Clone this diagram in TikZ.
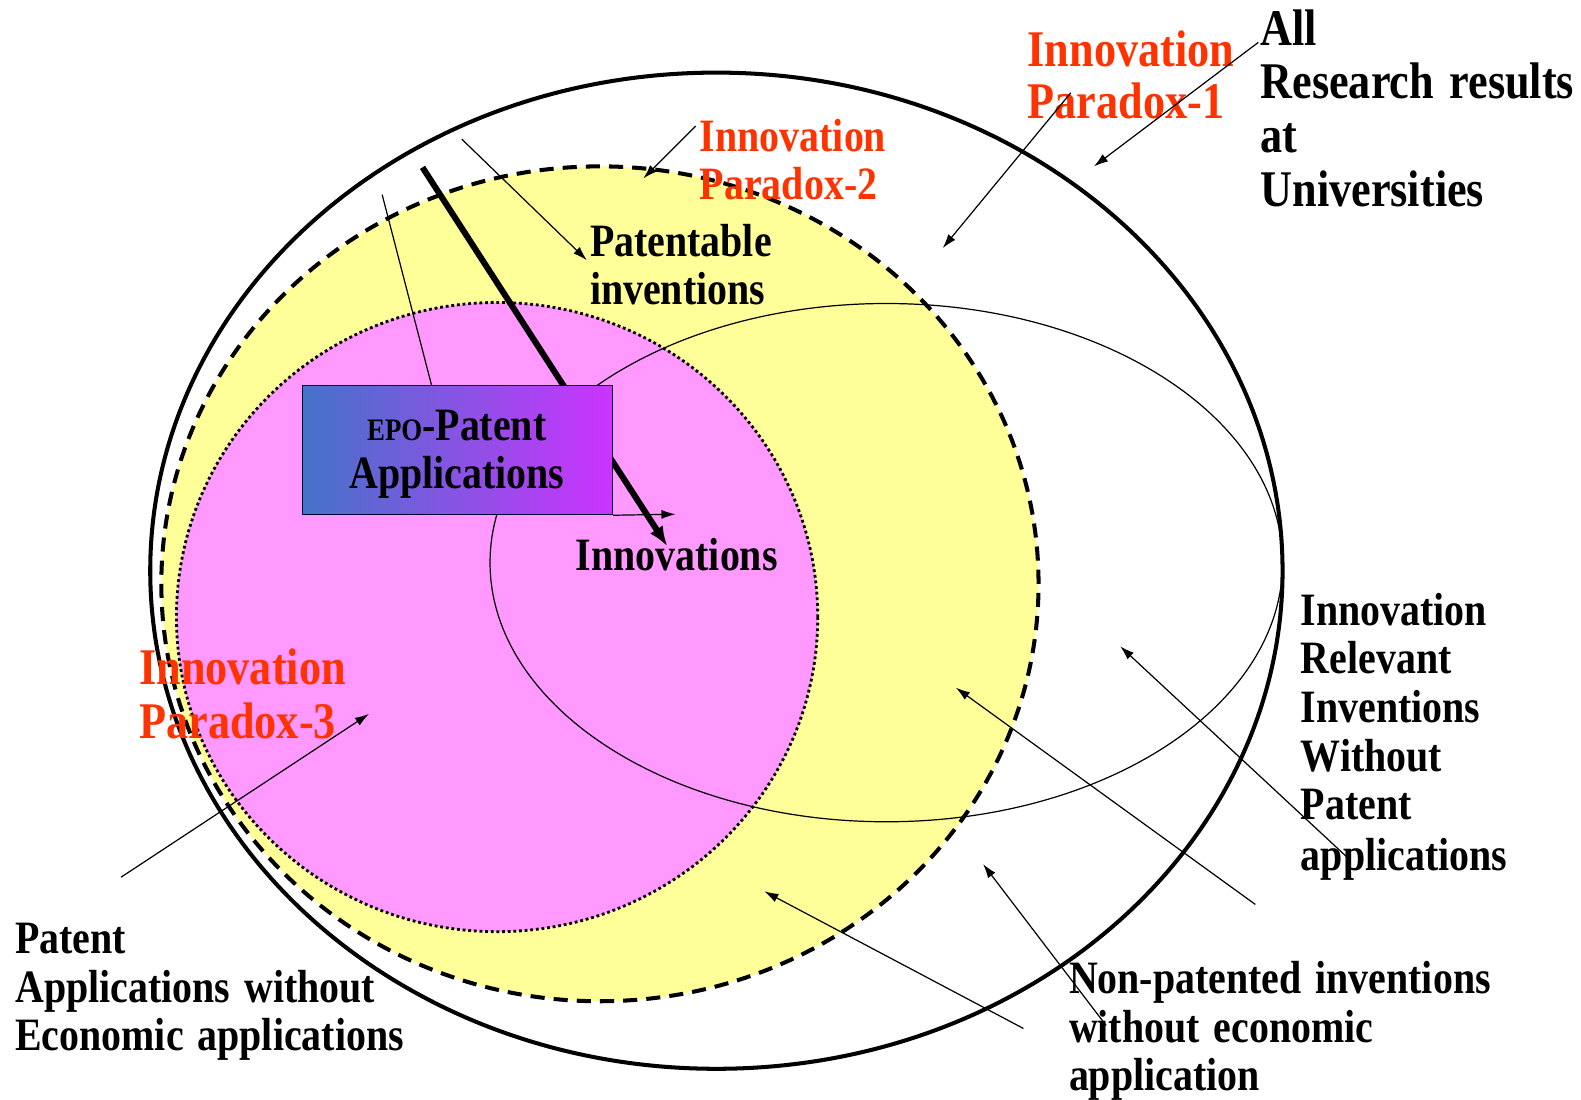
\documentclass[tikz,border=0pt]{standalone}
\usepackage{fontspec}
\usetikzlibrary{arrows.meta}
\newfontfamily\labfont{Liberation Serif}[FakeStretch=0.86,WordSpace=1.4]
\definecolor{paraRed}{HTML}{FF3300}
\definecolor{yellowFill}{HTML}{FFFF99}
\definecolor{pinkFill}{HTML}{FF99FF}
\definecolor{boxL}{HTML}{4473C8}
\definecolor{boxR}{HTML}{CC33FF}
\begin{document}
\begin{tikzpicture}[x=1pt,y=-1pt,
  lbl/.style={anchor=base west, inner sep=0pt, font=\labfont\bfseries\fontsize{46}{50}\selectfont},
  lblbig/.style={lbl, font=\labfont\bfseries\fontsize{51}{55}\selectfont},
  paralbl/.style={lbl, text=paraRed, font=\labfont\bfseries\fontsize{51}{55}\selectfont},
  paralbls/.style={lbl, text=paraRed},
  ptr/.style={line width=1.2pt, -{Latex[length=14pt,width=9pt]}},
  plainln/.style={line width=1.2pt},
  epobox/.style={draw=black!80!blue, line width=1pt, left color=boxL, right color=boxR, shading angle=90, inner sep=0pt, anchor=north west, minimum width=307pt, minimum height=128pt}
]
\useasboundingbox (0,0) rectangle (1568,1090);
% ellipses
\draw[line width=4pt] (710.5,566) ellipse [x radius=561.5pt, y radius=494pt];
\fill[yellowFill] (595,579) ellipse [x radius=435pt, y radius=414pt];
\draw[line width=4pt, dash pattern=on 14pt off 9pt] (595,579) ellipse [x radius=435pt, y radius=414pt];
\fill[pinkFill] (493,612) ellipse [x radius=318pt, y radius=312pt];
\draw[line width=2.8pt, dash pattern=on 2.8pt off 2.8pt] (493,612) ellipse [x radius=318pt, y radius=312pt];
\draw[line width=1.2pt] (879,558) ellipse [x radius=393pt, y radius=257pt];

% coordinates for connector ends
\coordinate (thickS) at (419,166);
\coordinate (thickE) at (662,542);
\coordinate (boxlnS) at (379,193);
\coordinate (boxtop) at (428,382);
\coordinate (innE) at (670,510);
\coordinate (patS) at (458,138);
\coordinate (patE) at (582,258);
\coordinate (p2S) at (690,125);
\coordinate (p2E) at (638,177);
\coordinate (p1S) at (1062,92);
\coordinate (p1E) at (935,246);
\coordinate (allS) at (1248,42);
\coordinate (allE) at (1085,165);
\coordinate (p3S) at (120,870);
\coordinate (p3E) at (366,708);
\coordinate (npS1) at (1015,1020);
\coordinate (npE1) at (758,884);
\coordinate (npS2) at (1097,1017);
\coordinate (npE2) at (975,857);
\coordinate (irS1) at (1245,897);
\coordinate (irE1) at (948,682);
\coordinate (irS2) at (1338,852);
\coordinate (irE2) at (1111,641);

\draw[line width=6pt, -{Latex[length=20pt,width=15pt]}] (thickS) -- (thickE);
\draw[plainln] (boxlnS) -- (boxtop);

% box
\node[epobox] (epo) at (300,382) {};
\node[anchor=base, inner sep=0pt, font=\labfont\bfseries\fontsize{46}{50}\selectfont] (epoA) at (453,437) {{\fontsize{31}{36}\selectfont EPO}-Patent};
\node[anchor=base, inner sep=0pt, font=\labfont\bfseries\fontsize{46}{50}\selectfont] (epoB) at (453,484) {Applications};
\draw[ptr] (epo.south east) -- (innE);

% labels
\node[lblbig] (allA) at (1250,45) {All};
\node[lblbig] (allB) at (1250,98) {Research results};
\node[lblbig] (allC) at (1250,151) {at};
\node[lblbig] (allD) at (1250,205) {Universities};

\node[paralbl] (p1A) at (1019,66) {Innovation};
\node[paralbl] (p1B) at (1019,118) {Paradox-1};

\node[paralbls] (p2A) at (694,150) {Innovation};
\node[paralbls] (p2B) at (694,198) {Paradox-2};

\node[lbl] (patA) at (585,254) {Patentable};
\node[lbl] (patB) at (585,302) {inventions};

\node[lbl] (inno) at (571,566) {Innovations};

\node[paralbl] (p3A) at (138,679) {Innovation};
\node[paralbl] (p3B) at (138,732) {Paradox-3};

\node[lbl] (paeA) at (15,946) {Patent};
\node[lbl] (paeB) at (15,994) {Applications without};
\node[lbl] (paeC) at (15,1042) {Economic applications};

\node[lbl] (irA) at (1290,620) {Innovation};
\node[lbl] (irB) at (1290,668) {Relevant};
\node[lbl] (irC) at (1290,717) {Inventions};
\node[lbl] (irD) at (1290,765) {Without};
\node[lbl] (irE) at (1290,813) {Patent};
\node[lbl] (irF) at (1290,863) {applications};

\node[lbl] (npA) at (1060,985) {Non-patented inventions};
\node[lbl] (npB) at (1060,1034) {without economic};
\node[lbl] (npC) at (1060,1082) {application};

% pointers
\draw[ptr] (patS) -- (patE);
\draw[ptr] (p2S) -- (p2E);
\draw[ptr] (p1S) -- (p1E);
\draw[ptr] (allS) -- (allE);
\draw[ptr] (p3S) -- (p3E);
\draw[ptr] (npS1) -- (npE1);
\draw[ptr] (npS2) -- (npE2);
\draw[ptr] (irS1) -- (irE1);
\draw[ptr] (irS2) -- (irE2);
\end{tikzpicture}
\end{document}
